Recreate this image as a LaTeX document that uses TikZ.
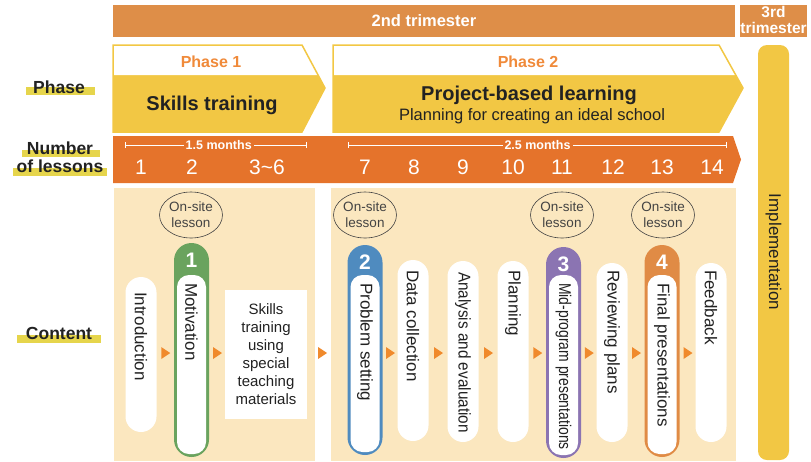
\documentclass[tikz,border=0pt]{standalone}
\usepackage{fontspec}
\setmainfont{Liberation Sans}
\usetikzlibrary{shapes.geometric,arrows.meta,calc}

\definecolor{trim}{HTML}{DE8E48}
\definecolor{lessonor}{HTML}{E5732B}
\definecolor{phaseyl}{HTML}{F2C744}
\definecolor{phaseor}{HTML}{F08A3A}
\definecolor{panel}{HTML}{FBE7BF}
\definecolor{hilite}{HTML}{E6D54C}
\definecolor{arrowor}{HTML}{F08A2C}
\definecolor{ink}{HTML}{222222}
\definecolor{kgreen}{HTML}{6AA35E}
\definecolor{kblue}{HTML}{4F8BBF}
\definecolor{kpurple}{HTML}{8B74B2}
\definecolor{korange}{HTML}{E08B45}

\newcommand{\fsz}[2]{\fontsize{#1pt}{#2pt}\selectfont}

\tikzset{
  rowlabel/.style={font=\bfseries\fsz{17.5}{18}, text=ink, inner sep=0, align=center},
  lessonnum/.style={font=\fsz{21}{21}, text=white, inner sep=0},
  onsite/.style={ellipse, draw=ink!85, line width=0.6pt, minimum width=63pt, minimum height=46pt,
    inner sep=0, align=center, font=\fsz{13.5}{16}, text=ink!85},
  pill/.style={fill=white, rounded corners=15.5pt, minimum width=31pt, inner sep=0},
  keypill/.style={fill=#1, rounded corners=17.5pt, minimum width=35pt, inner sep=0},
  pilltext/.style={rotate=-90, anchor=west, font=\fsz{17}{17}, text=ink, inner sep=0},
  keynum/.style={font=\bfseries\fsz{21}{21}, text=white, inner sep=0},
  months/.style={fill=lessonor, font=\bfseries\fsz{12.5}{12.5}, text=white, inner sep=2pt},
}

\begin{document}
\begin{tikzpicture}[x=1pt, y=-1pt]
  \useasboundingbox (0,0) rectangle (811,461);

  % Trimesters
  \fill[trim] (113,5) rectangle (735,37);
  \node[font=\bfseries\fsz{16.5}{16.5}, text=white] (tri2) at (424,21) {2nd trimester};
  \fill[trim] (740,5) rectangle (807,37);
  \node[font=\bfseries\fsz{15.5}{16}, text=white, align=center, inner sep=0] (tri3) at (773.5,20)
    {3rd\\trimester};

  % Row labels
  \fill[hilite] (26,87) rectangle (95,95);
  \node[rowlabel] (phaselbl) at (59,87) {Phase};
  \fill[hilite] (22,150) rectangle (100,157);
  \fill[hilite] (13,168) rectangle (107,176);
  \node[rowlabel] (lessonlbl) at (60,157) {Number\\of lessons};
  \fill[hilite] (17,335) rectangle (101,343);
  \node[rowlabel] (contentlbl) at (59,333) {Content};

  % Phase arrows
  \fill[phaseyl] (113,45) -- (302,45) -- (325,88) -- (302,132) -- (113,132) -- cycle;
  \fill[white] (113,45) -- (302,45) -- (318,75) -- (113,75) -- cycle;
  \draw[phaseyl, line width=1.5pt] (113,45) -- (302,45) -- (325,88) -- (302,132) -- (113,132) -- cycle;
  \fill[phaseyl] (333,45) -- (719,45) -- (743,88) -- (719,132) -- (333,132) -- cycle;
  \fill[white] (333,45) -- (719,45) -- (735.5,75) -- (333,75) -- cycle;
  \draw[phaseyl, line width=1.5pt] (333,45) -- (719,45) -- (743,88) -- (719,132) -- (333,132) -- cycle;

  \node[font=\bfseries\fsz{16}{16}, text=phaseor] (ph1) at (211,62) {Phase 1};
  \node[font=\bfseries\fsz{20}{20}, text=ink] (ph1name) at (212,105) {Skills training};
  \node[font=\bfseries\fsz{16}{16}, text=phaseor] (ph2) at (528,62) {Phase 2};
  \node[font=\bfseries\fsz{20}{20}, text=ink] (ph2name) at (529,95) {Project-based learning};
  \node[font=\fsz{16.5}{16.5}, text=ink] (ph2sub) at (532,116) {Planning for creating an ideal school};

  % Number of lessons
  \fill[lessonor] (113,136) -- (733,136) -- (741,159.5) -- (733,183) -- (113,183) -- cycle;
  \coordinate (m15a) at (125,145);
  \coordinate (m15b) at (307,145);
  \coordinate (m25a) at (348,145);
  \coordinate (m25b) at (727,145);
  \draw[white, line width=0.7pt, {Bar[width=6pt]}-{Bar[width=6pt]}] (m15a) -- (m15b)
    node[months, pos=0.515] (m15) {1.5 months};
  \draw[white, line width=0.7pt, {Bar[width=6pt]}-{Bar[width=6pt]}] (m25a) -- (m25b)
    node[months, pos=0.5] (m25) {2.5 months};
  \foreach \lbl/\x [count=\i] in {1/141, 2/192, {3\textasciitilde 6}/267, 7/365, 8/414, 9/463,
      10/513, 11/562, 12/613, 13/662, 14/712}
    \node[lessonnum] (num\i) at (\x,167) {\lbl};

  % Content panels
  \fill[panel] (114,188) rectangle (315,461);
  \fill[panel] (331,188) rectangle (736,461);

  % Implementation
  \fill[phaseyl, rounded corners=9pt] (758,45) rectangle (789,460);
  \node[rotate=-90, font=\fsz{17}{17}, text=ink] (impl) at (773.5,252) {Implementation};

  % On-site lessons
  \foreach \nm/\x in {os1/191, os2/365, os3/562, os4/663}
    \node[onsite] (\nm) at (\x,215) {On-site\\lesson};

  % Plain steps
  \foreach \nm/\x/\t/\b/\lbl/\gap in {intro/141/277/432/Introduction/15,
      data/413/260/441/Data collection/10,
      anal/463/261/442/{\scalebox{0.9}[1]{Analysis and evaluation}}/11,
      plan/513/261/442/Planning/9,
      review/612/263/442/Reviewing plans/7,
      feed/711/263/442/Feedback/7}{
    \pgfmathsetmacro\ym{(\t+\b)/2}
    \pgfmathsetmacro\h{\b-\t}
    \node[pill, minimum height=\h pt] (\nm) at (\x,\ym) {};
    \node[pilltext] (\nm txt) at ($(\nm.north)+(0,\gap)$) {\lbl};
  }

  % On-site steps
  \foreach \nm/\x/\t/\b/\col/\n/\lbl in {motiv/191.5/243/457/kgreen/1/Motivation,
      prob/365/245/455/kblue/2/Problem setting,
      mid/563.5/247/458/kpurple/3/{\scalebox{0.82}[1]{Mid-program presentations}},
      final/662/245/457/korange/4/Final presentations}{
    \pgfmathsetmacro\ym{(\t+\b)/2}
    \pgfmathsetmacro\h{\b-\t}
    \node[keypill=\col, minimum height=\h pt] (\nm) at (\x,\ym) {};
    \fill[white, rounded corners=12pt] (\x-14.5,275) rectangle (\x+14.5,\b-3);
    \node[keynum] (\nm num) at (\x,\t+17) {\n};
    \node[pilltext] (\nm txt) at (\x,283) {\lbl};
  }

  % Skills materials
  \node[fill=white, minimum width=82pt, minimum height=129pt, inner sep=0, align=center,
    font=\fsz{15}{18}, text=ink] (skills) at (266,354.5)
    {Skills\\training\\using\\special\\teaching\\materials};

  % Step arrows
  \coordinate (arrowrow) at (0,353);
  \foreach \a/\b/\f in {intro/motiv/0.5, motiv/skills/0.5, skills/prob/0.37, prob/data/0.5,
      data/anal/0.5, anal/plan/0.5, plan/mid/0.5, mid/review/0.5, review/final/0.5, final/feed/0.5}{
    \coordinate (tmp) at ($(\a.east)!\f!(\b.west)$);
    \fill[arrowor] (tmp |- arrowrow) +(-4,-6) -- +(5,0) -- +(-4,6) -- cycle;
  }
\end{tikzpicture}
\end{document}
